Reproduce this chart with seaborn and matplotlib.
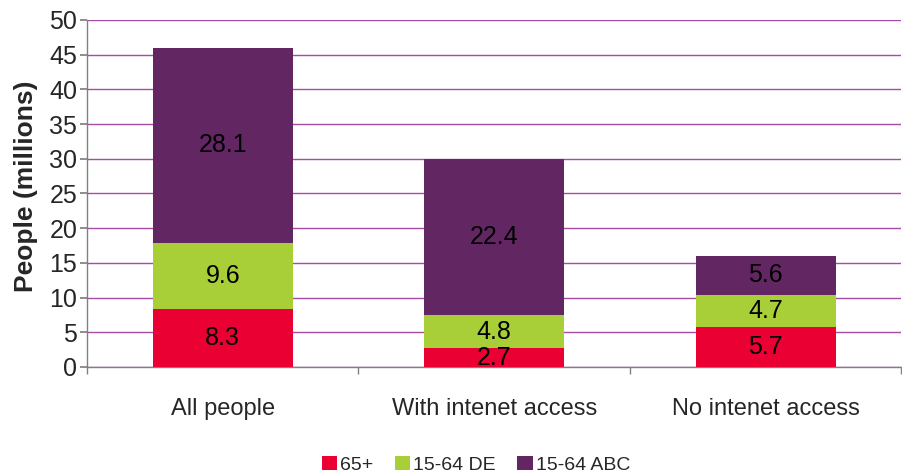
import numpy as np
import pandas as pd
import matplotlib
matplotlib.use("Agg")
import matplotlib.pyplot as plt
from matplotlib.patches import Patch
import seaborn as sns

sns.set_theme(style="white")
plt.rcParams["font.family"] = ["Liberation Sans", "DejaVu Sans"]

categories = ["All people", "With intenet access", "No intenet access"]
age_65 = [8.3, 2.7, 5.7]
de_15_64 = [9.6, 4.8, 4.7]
abc_15_64 = [28.1, 22.4, 5.6]

series_names = ["65+", "15-64 DE", "15-64 ABC"]
colors = ["#EB0033", "#A8CF38", "#622763"]

df = pd.DataFrame({
    "Category": categories,
    "65+": age_65,
    "15-64 DE": de_15_64,
    "15-64 ABC": abc_15_64,
})
df["c1"] = df["65+"]
df["c2"] = df["c1"] + df["15-64 DE"]
df["c3"] = df["c2"] + df["15-64 ABC"]

fig = plt.figure(figsize=(9.03, 4.76), dpi=100)
ax = fig.add_axes([0.0963, 0.229, 0.902, 0.729])

# draw cumulative totals back to front
for col, color in zip(["c3", "c2", "c1"], colors[::-1]):
    sns.barplot(data=df, x="Category", y=col, color=color, width=0.515,
                saturation=1, edgecolor="none", linewidth=0, ax=ax, zorder=3)

# segment labels
for i in range(len(categories)):
    lows = [0, df["c1"][i], df["c2"][i]]
    vals = [age_65[i], de_15_64[i], abc_15_64[i]]
    for lo, v in zip(lows, vals):
        ax.text(i, lo + v / 2, f"{v:.1f}", ha="center", va="center",
                fontsize=18, color="black", zorder=4)

ax.set_ylim(0, 50)
ax.set_xlim(-0.5, 2.5)
ax.set_yticks(np.arange(0, 51, 5))
ax.yaxis.grid(True, color="#A64CA6", linewidth=1)
ax.set_axisbelow(True)
ax.set_xticks(np.arange(-0.5, 2.6, 1), minor=True)
ax.tick_params(axis="x", which="major", length=0, pad=22, labelsize=17)
ax.tick_params(axis="x", which="minor", length=5, direction="out", color="#808080", width=1, bottom=True)
ax.tick_params(axis="y", length=5, direction="out", color="#808080", labelsize=18, left=True, pad=2)
ax.set_xlabel("")
ax.set_ylabel("People (millions)", fontsize=19, fontweight="bold")
ax.yaxis.set_label_coords(-0.060, 0.52)

for s in ["top", "right"]:
    ax.spines[s].set_visible(False)
for s in ["left", "bottom"]:
    ax.spines[s].set_color("#808080")
    ax.spines[s].set_linewidth(1)

handles = [Patch(facecolor=c, edgecolor="none", label=n) for c, n in zip(colors, series_names)]
fig.legend(handles=handles, loc="lower center", bbox_to_anchor=(0.527, -0.032), ncol=3,
           frameon=False, fontsize=14, handlelength=0.8, handleheight=0.8,
           handletextpad=0.15, columnspacing=1.1)

fig.savefig("out.png", dpi=100)
